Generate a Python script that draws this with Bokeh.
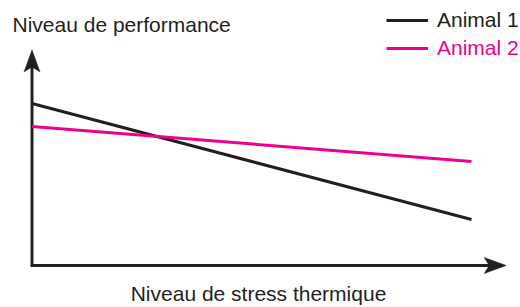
from bokeh.plotting import figure
from bokeh.models import Label, Legend, LegendItem, Range1d
from bokeh.embed import file_html
from bokeh.resources import INLINE

# ---- data (conceptual chart: performance vs thermal stress) ----
stress = [0, 10]
animal1 = [8.1, 2.3]
animal2 = [6.95, 5.2]
series_names = ["Animal 1", "Animal 2"]
series_colors = ["#231f20", "#ec008c"]
title_text = "Niveau de performance"
xlabel_text = "Niveau de stress thermique"

# axis extents (data units)
x_axis_end = 10.79
y_axis_end = 10.78

W, H = 520, 307
PX_X = 43.95   # px per x unit
PX_Y = 20.0    # px per y unit
X0 = 31.5      # px of x=0 from left
Y0 = H - 265   # px of y=0 from bottom

p = figure(width=W, height=H, output_backend="svg", toolbar_location=None,
           x_axis_type=None, y_axis_type=None, min_border=0,
           x_range=Range1d(-X0 / PX_X, (W - X0) / PX_X),
           y_range=Range1d(-Y0 / PX_Y, (H - Y0) / PX_Y))
p.outline_line_color = None
p.grid.visible = False
p.background_fill_color = "white"

ink = "#231f20"
font = "Liberation Sans"

# arrow heads (length 22px, width 16px, notch 5px)
L, HW, N = 22, 8, 5
ytip = y_axis_end
p.line([x_axis_end - (L - N) / PX_X, 0, 0], [0, 0, ytip - (L - N) / PX_Y],
       line_color=ink, line_width=3, line_join="miter")
p.patch([0, -HW / PX_X, 0, HW / PX_X],
        [ytip, ytip - L / PX_Y, ytip - (L - N) / PX_Y, ytip - L / PX_Y],
        fill_color=ink, line_color=ink, line_width=0.5)
xtip = x_axis_end
p.patch([xtip, xtip - L / PX_X, xtip - (L - N) / PX_X, xtip - L / PX_X],
        [0, HW / PX_Y, 0, -HW / PX_Y],
        fill_color=ink, line_color=ink, line_width=0.5)

r1 = p.line(stress, animal1, line_color=series_colors[0], line_width=3)
r2 = p.line(stress, animal2, line_color=series_colors[1], line_width=3)

for i, (r, name, col) in enumerate(zip([r1, r2], series_names, series_colors)):
    lg = Legend(items=[LegendItem(label=name, renderers=[r])],
                location=(386, H - 20 - 14 - 28 * i),
                glyph_width=42, glyph_height=28, label_standoff=9,
                label_text_font=font, label_text_font_size="21px",
                label_text_color=col, padding=0, margin=0, spacing=0,
                border_line_color=None, background_fill_alpha=0,
                label_height=28)
    p.add_layout(lg, "center")

DY = 6  # baseline correction
p.add_layout(Label(x=12, y=H - 30 + DY, x_units="screen", y_units="screen",
                   text=title_text, text_font=font, text_font_size="21px",
                   text_color=ink, text_baseline="alphabetic"))
p.add_layout(Label(x=258, y=H - 299 + DY, x_units="screen", y_units="screen",
                   text=xlabel_text, text_font=font, text_font_size="21px",
                   text_color=ink, text_align="center", text_baseline="alphabetic"))

open("out.html", "w").write(file_html(p, INLINE))
